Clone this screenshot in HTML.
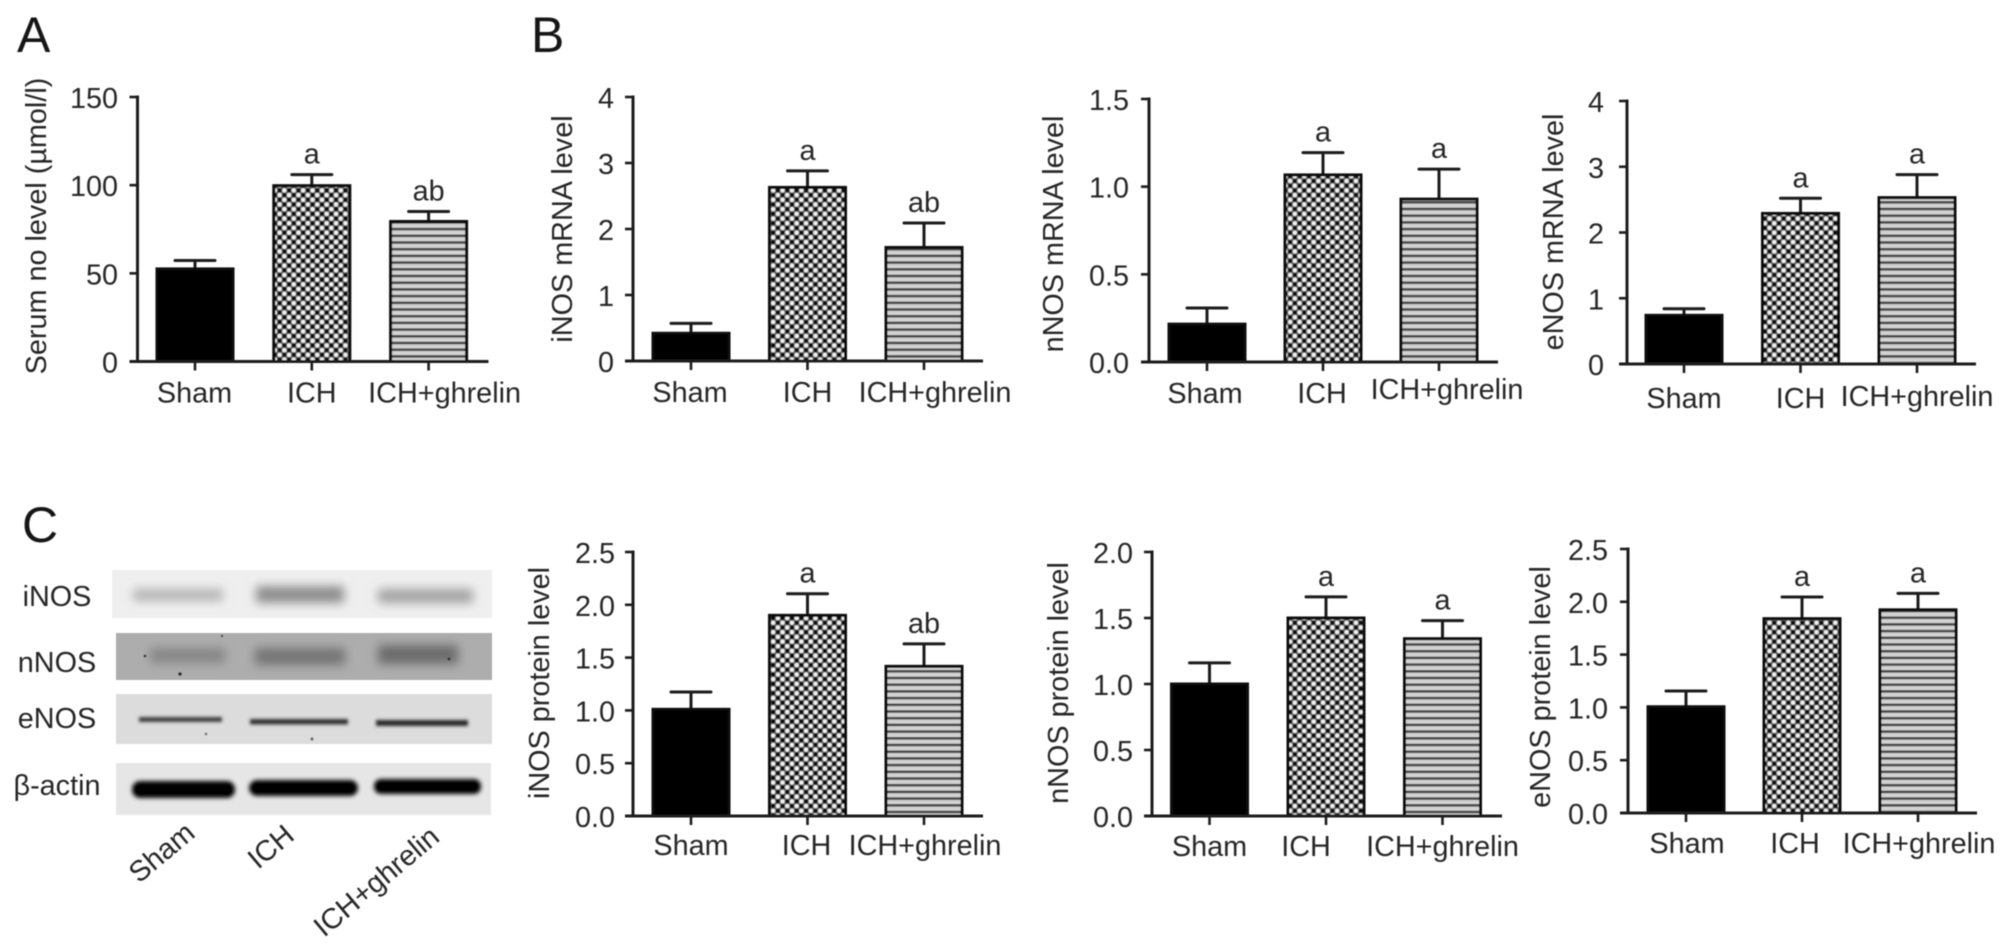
<!DOCTYPE html>
<html lang="en">
<head>
<meta charset="utf-8">
<title>Serum NO level and NOS expression</title>
<style>
html,body{margin:0;padding:0;background:#fff;}
body{width:2008px;height:949px;overflow:hidden;}
svg{display:block;}
text{font-family:"Liberation Sans",Arial,sans-serif;font-size:28.8px;fill:#262626;}
.letter{font-size:50px;fill:#151515;}
</style>
</head>
<body>
<svg id="figure" xmlns="http://www.w3.org/2000/svg" width="2008" height="949" viewBox="0 0 2008 949">
  <defs>
    <filter id="soft" x="-2%" y="-2%" width="104%" height="104%"><feGaussianBlur stdDeviation="0.65"/></filter>
    <filter id="band" x="-30%" y="-200%" width="160%" height="500%"><feGaussianBlur stdDeviation="5"/></filter>
    <filter id="bandThin" x="-10%" y="-200%" width="120%" height="500%"><feGaussianBlur stdDeviation="1.5"/></filter>
    <filter id="bandActin" x="-10%" y="-50%" width="120%" height="200%"><feGaussianBlur stdDeviation="2"/></filter>
    <filter id="edge" x="-5%" y="-20%" width="110%" height="140%"><feGaussianBlur stdDeviation="4"/></filter>
    <pattern id="checker" patternUnits="userSpaceOnUse" width="9.4" height="9.4">
      <rect width="9.4" height="9.4" fill="#6a6a6a"/>
      <circle cx="2.35" cy="2.35" r="2.1" fill="#f2f2f2"/>
      <circle cx="7.05" cy="7.05" r="2.1" fill="#f2f2f2"/>
      <circle cx="7.05" cy="2.35" r="2.1" fill="#0c0c0c"/>
      <circle cx="2.35" cy="7.05" r="2.1" fill="#0c0c0c"/>
    </pattern>
    <pattern id="stripes" patternUnits="userSpaceOnUse" width="10" height="6.7">
      <rect width="10" height="6.7" fill="#d2d2d2"/>
      <rect y="0" width="10" height="2.6" fill="#4a4a4a"/>
    </pattern>
  </defs>
  <g id="root" filter="url(#soft)">
    <text class="letter" x="17" y="52">A</text>
    <text class="letter" x="531" y="52">B</text>
    <text class="letter" x="22" y="542">C</text>

    <g>
      <g>
        <rect x="112" y="570" width="380" height="48" fill="#efefef"/>
        <rect x="133" y="589" width="90" height="12" fill="#b4b4b4" filter="url(#band)"/>
        <rect x="256" y="586" width="88" height="17" fill="#8e8e8e" filter="url(#band)"/>
        <rect x="378" y="589" width="95" height="14" fill="#a2a2a2" filter="url(#band)"/>
      </g>
      <g>
        <rect x="116" y="633" width="376" height="47" fill="#adadad"/>
        <rect x="150" y="648" width="75" height="15" fill="#868686" filter="url(#band)"/>
        <rect x="255" y="648" width="90" height="17" fill="#747474" filter="url(#band)"/>
        <rect x="378" y="645" width="80" height="19" fill="#6c6c6c" filter="url(#band)"/>
        <circle cx="145" cy="656" r="1.4" fill="#333"/>
        <circle cx="180" cy="674" r="1.8" fill="#222"/>
        <circle cx="222" cy="636" r="1.2" fill="#444"/>
        <circle cx="449" cy="659" r="1.5" fill="#333"/>
      </g>
      <g>
        <rect x="116" y="694" width="376" height="50" fill="#dcdcdc"/>
        <rect x="139" y="717" width="83" height="5" fill="#3d3d3d" filter="url(#bandThin)"/>
        <rect x="250" y="719" width="98" height="5.5" fill="#303030" filter="url(#bandThin)"/>
        <rect x="376" y="720" width="92" height="6" fill="#262626" filter="url(#bandThin)"/>
        <circle cx="206" cy="734" r="1.4" fill="#777"/>
        <circle cx="312" cy="739" r="1.6" fill="#666"/>
      </g>
      <g>
        <rect x="116" y="763" width="375" height="52" fill="#e6e6e6"/>
        <rect x="132" y="781" width="103" height="17" rx="8" fill="#000" filter="url(#bandActin)"/>
        <rect x="249" y="780" width="109" height="16" rx="8" fill="#000" filter="url(#bandActin)"/>
        <rect x="374" y="779" width="107" height="15" rx="7" fill="#000" filter="url(#bandActin)"/>
      </g>
      <text x="57" y="606" text-anchor="middle">iNOS</text>
      <text x="57" y="672" text-anchor="middle">nNOS</text>
      <text x="57" y="728" text-anchor="middle">eNOS</text>
      <text x="57" y="795" text-anchor="middle">β-actin</text>
      <text transform="translate(139 884) rotate(-40)">Sham</text>
      <text transform="translate(258 870) rotate(-40)">ICH</text>
      <text transform="translate(324 938) rotate(-40)">ICH+ghrelin</text>
    </g>
  </g>
</svg>
<script>
const categories = ["Sham", "ICH", "ICH+ghrelin"];

const serumValues = [52.5, 99.7, 79.4];
const serumErrors = [57.3, 106, 85.1];
const serumTicks = ["0", "50", "100", "150"];
const serumMarks = ["", "a", "ab"];

const inosMrnaValues = [0.42, 2.63, 1.72];
const inosMrnaErrors = [0.57, 2.88, 2.09];
const inosMrnaTicks = ["0", "1", "2", "3", "4"];
const inosMrnaMarks = ["", "a", "ab"];

const nnosMrnaValues = [0.216, 1.067, 0.929];
const nnosMrnaErrors = [0.308, 1.194, 1.10];
const nnosMrnaTicks = ["0.0", "0.5", "1.0", "1.5"];
const nnosMrnaMarks = ["", "a", "a"];

const enosMrnaValues = [0.74, 2.29, 2.53];
const enosMrnaErrors = [0.84, 2.52, 2.88];
const enosMrnaTicks = ["0", "1", "2", "3", "4"];
const enosMrnaMarks = ["", "a", "a"];

const inosProteinValues = [1.01, 1.90, 1.417];
const inosProteinErrors = [1.174, 2.105, 1.63];
const inosProteinTicks = ["0.0", "0.5", "1.0", "1.5", "2.0", "2.5"];
const inosProteinMarks = ["", "a", "ab"];

const nnosProteinValues = [1.0, 1.50, 1.343];
const nnosProteinErrors = [1.16, 1.66, 1.48];
const nnosProteinTicks = ["0.0", "0.5", "1.0", "1.5", "2.0"];
const nnosProteinMarks = ["", "a", "a"];

const enosProteinValues = [1.006, 1.84, 1.924];
const enosProteinErrors = [1.155, 2.045, 2.08];
const enosProteinTicks = ["0.0", "0.5", "1.0", "1.5", "2.0", "2.5"];
const enosProteinMarks = ["", "a", "a"];

const NS = "http://www.w3.org/2000/svg";
const INK = "#1c1c1c";
const FILLS = ["#000", "url(#checker)", "url(#stripes)"];
const root = document.getElementById("root");

function make(parent, tag, attrs) {
  const el = document.createElementNS(NS, tag);
  for (const k in attrs) el.setAttribute(k, attrs[k]);
  parent.appendChild(el);
  return el;
}

function drawPanel(p) {
  const yMax = parseFloat(p.ticks[p.ticks.length - 1]);
  const yScale = v => p.base - (v / yMax) * (p.base - p.top);
  const xBand = i => p.first + i * p.step;

  const g = make(root, "g", {});
  
  

  p.values.forEach((v, i) => {
    const cx = xBand(i);
    const y = yScale(v);
    const yErr = yScale(p.errors[i]);

    const stem = make(g, "line", {x1: cx, x2: cx, y1: y, y2: yErr, stroke: INK, "stroke-width": 3});
    
    

    const cap = make(g, "line", {x1: cx - 20, x2: cx + 20, y1: yErr, y2: yErr, stroke: INK, "stroke-width": 3, "stroke-linecap": "round"});
    
    

    const bar = make(g, "rect", {x: cx - 38, y: y, width: 76, height: p.base - y, fill: FILLS[i], stroke: "#0a0a0a", "stroke-width": 3});
    
    

    if (p.marks[i]) {
      const mark = make(g, "text", {x: cx, y: yErr - 11, "text-anchor": "middle"});
      mark.textContent = p.marks[i];
      
      
    }

    const xTick = make(g, "line", {x1: cx, x2: cx, y1: p.base, y2: p.base + 9, stroke: INK, "stroke-width": 2.6});
    
    

    const xLabel = make(g, "text", {x: cx + p.labelDx[i], y: p.base + p.labelDy[i], "text-anchor": "middle"});
    xLabel.textContent = categories[i];
    
    
  });

  const yAxis = make(g, "line", {x1: p.axis, x2: p.axis, y1: p.top - 1.5, y2: p.base, stroke: INK, "stroke-width": 3});
  
  

  const xAxis = make(g, "line", {x1: p.axis - 8, x2: p.end, y1: p.base, y2: p.base, stroke: INK, "stroke-width": 3});
  
  

  p.ticks.forEach(t => {
    const y = yScale(parseFloat(t));

    const yTick = make(g, "line", {x1: p.axis - 8, x2: p.axis, y1: y, y2: y, stroke: INK, "stroke-width": 2.6});
    
    

    const yLabel = make(g, "text", {x: p.axis + p.tickDx, y: y + 11, "text-anchor": "end"});
    yLabel.textContent = t;
    
    
  });

  const title = make(g, "text", {transform: "translate(" + p.titleX + " " + p.titleY + ") rotate(-90)", "text-anchor": "middle"});
  title.textContent = p.title;
  
  
}

drawPanel({id: "serum-no", title: "Serum no level (µmol/l)", values: serumValues, errors: serumErrors, ticks: serumTicks, marks: serumMarks,
  axis: 137.5, top: 97, base: 361.5, end: 488.5, first: 195, step: 116.8, tickDx: -19.5, titleX: 46, titleY: 226, labelDx: [-0.5, 0, 16], labelDy: [41, 41, 41]});
drawPanel({id: "inos-mrna", title: "iNOS mRNA level", values: inosMrnaValues, errors: inosMrnaErrors, ticks: inosMrnaTicks, marks: inosMrnaMarks,
  axis: 633, top: 97, base: 361, end: 983, first: 691, step: 116.5, tickDx: -19, titleX: 572, titleY: 229, labelDx: [-1, 0, 11], labelDy: [41, 41, 41]});
drawPanel({id: "nnos-mrna", title: "nNOS mRNA level", values: nnosMrnaValues, errors: nnosMrnaErrors, ticks: nnosMrnaTicks, marks: nnosMrnaMarks,
  axis: 1149, top: 99, base: 362, end: 1498, first: 1207, step: 116, tickDx: -20, titleX: 1063, titleY: 234, labelDx: [-2, -1, 8], labelDy: [41, 41, 37]});
drawPanel({id: "enos-mrna", title: "eNOS mRNA level", values: enosMrnaValues, errors: enosMrnaErrors, ticks: enosMrnaTicks, marks: enosMrnaMarks,
  axis: 1627, top: 101, base: 364, end: 1976, first: 1684, step: 116.5, tickDx: -23, titleX: 1563, titleY: 232, labelDx: [0, 0, 0], labelDy: [44, 44, 42]});
drawPanel({id: "inos-protein", title: "iNOS protein level", values: inosProteinValues, errors: inosProteinErrors, ticks: inosProteinTicks, marks: inosProteinMarks,
  axis: 633, top: 552, base: 816, end: 983, first: 691, step: 116.5, tickDx: -18, titleX: 549, titleY: 683, labelDx: [0, -1, 1], labelDy: [39, 39, 39]});
drawPanel({id: "nnos-protein", title: "nNOS protein level", values: nnosProteinValues, errors: nnosProteinErrors, ticks: nnosProteinTicks, marks: nnosProteinMarks,
  axis: 1152, top: 552, base: 816, end: 1502, first: 1209.5, step: 116.5, tickDx: -19, titleX: 1068, titleY: 683, labelDx: [0, -20, 0], labelDy: [40, 40, 40]});
drawPanel({id: "enos-protein", title: "eNOS protein level", values: enosProteinValues, errors: enosProteinErrors, ticks: enosProteinTicks, marks: enosProteinMarks,
  axis: 1628, top: 549, base: 813, end: 1977, first: 1686, step: 116, tickDx: -20, titleX: 1550, titleY: 687, labelDx: [1, -7, 1], labelDy: [40, 40, 40]});
</script>
</body>
</html>
